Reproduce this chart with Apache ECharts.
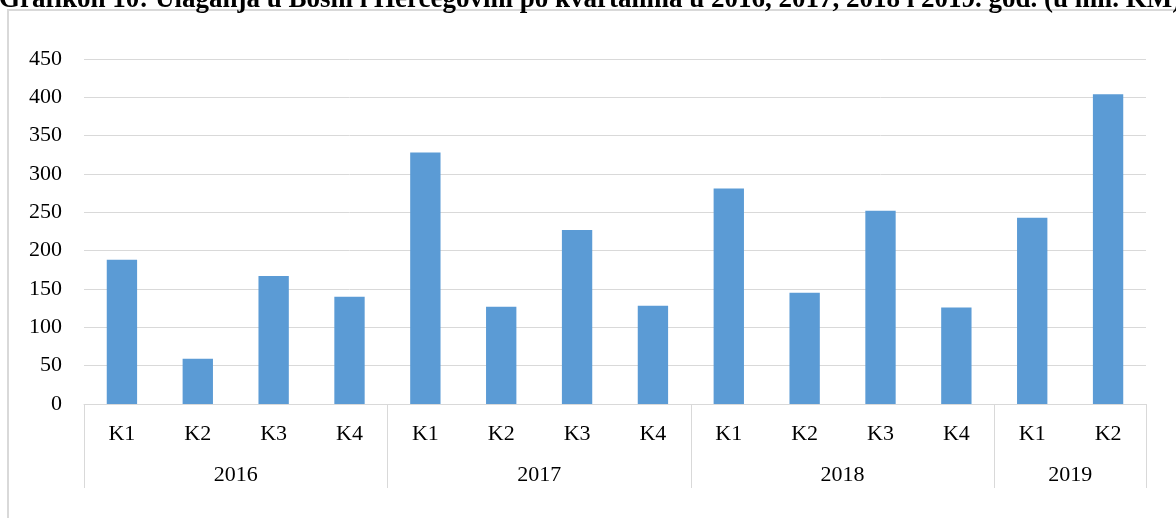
<!DOCTYPE html>
<html>
<head>
<meta charset="utf-8">
<title>Ulaganja u BiH po kvartalima</title>
<script src="https://cdn.jsdelivr.net/npm/echarts@6/dist/echarts.min.js"></script>
<style>
  html, body { margin: 0; padding: 0; background: #fff; }
  #chart { width: 1176px; height: 518px; }
</style>
</head>
<body>
<div id="chart"></div>
<script>
var titleText = 'Grafikon 10: Ulaganja u Bosni i Hercegovini po kvartalima u 2016, 2017, 2018 i 2019. god. (u mil. KM)';

var quarters = ['K1', 'K2', 'K3', 'K4', 'K1', 'K2', 'K3', 'K4', 'K1', 'K2', 'K3', 'K4', 'K1', 'K2'];
var values = [188, 59, 167, 140, 328, 127, 227, 128, 281, 145, 252, 126, 243, 404];
var years = ['2016', '2017', '2018', '2019'];
var yearSizes = [4, 4, 4, 2];
var yTicks = [0, 50, 100, 150, 200, 250, 300, 350, 400, 450];

// group boundaries and centres for the year row
var bounds = [0], centres = [];
yearSizes.forEach(function (n, i) {
  centres.push(bounds[i] + n / 2);
  bounds.push(bounds[i] + n);
});

var font = '"Liberation Serif", "Times New Roman", serif';
var grey = '#d9d9d9';

var chart = echarts.init(document.getElementById('chart'));
chart.setOption({
  animation: false,
  graphic: [
    {
      type: 'rect',
      shape: { x: 8, y: 10, width: 1200, height: 600 },
      style: { fill: 'none', stroke: grey, lineWidth: 2 },
      silent: true
    },
    {
      type: 'text',
      x: -1,
      y: 14,
      style: {
        text: titleText,
        font: 'bold 27px ' + font,
        fill: '#000',
        verticalAlign: 'bottom'
      }
    }
  ],
  grid: { left: 84, right: 30, top: 59, bottom: 114 },
  xAxis: [
    {
      type: 'category',
      data: quarters,
      axisLine: { lineStyle: { color: grey, width: 1 } },
      axisTick: { show: false },
      axisLabel: { color: '#000', fontFamily: font, fontSize: 22, margin: 19 }
    },
    {
      type: 'value',
      position: 'bottom',
      min: 0,
      max: bounds[bounds.length - 1],
      axisLine: { show: false },
      splitLine: { show: false },
      axisTick: {
        show: true,
        length: 84,
        customValues: bounds,
        lineStyle: { color: grey, width: 1 }
      },
      axisLabel: {
        customValues: centres,
        color: '#000',
        fontFamily: font,
        fontSize: 22,
        margin: 60,
        formatter: function (v) {
          return years[centres.indexOf(v)];
        }
      }
    }
  ],
  yAxis: {
    type: 'value',
    min: yTicks[0],
    max: yTicks[yTicks.length - 1],
    interval: yTicks[1] - yTicks[0],
    axisLine: { show: false },
    axisTick: { show: false },
    splitLine: { lineStyle: { color: grey, width: 1 } },
    axisLabel: { color: '#000', fontFamily: font, fontSize: 22, margin: 22 }
  },
  series: [{
    type: 'bar',
    data: values,
    xAxisIndex: 0,
    barWidth: '40%',
    itemStyle: { color: '#5b9bd5' }
  }]
});
</script>
</body>
</html>
